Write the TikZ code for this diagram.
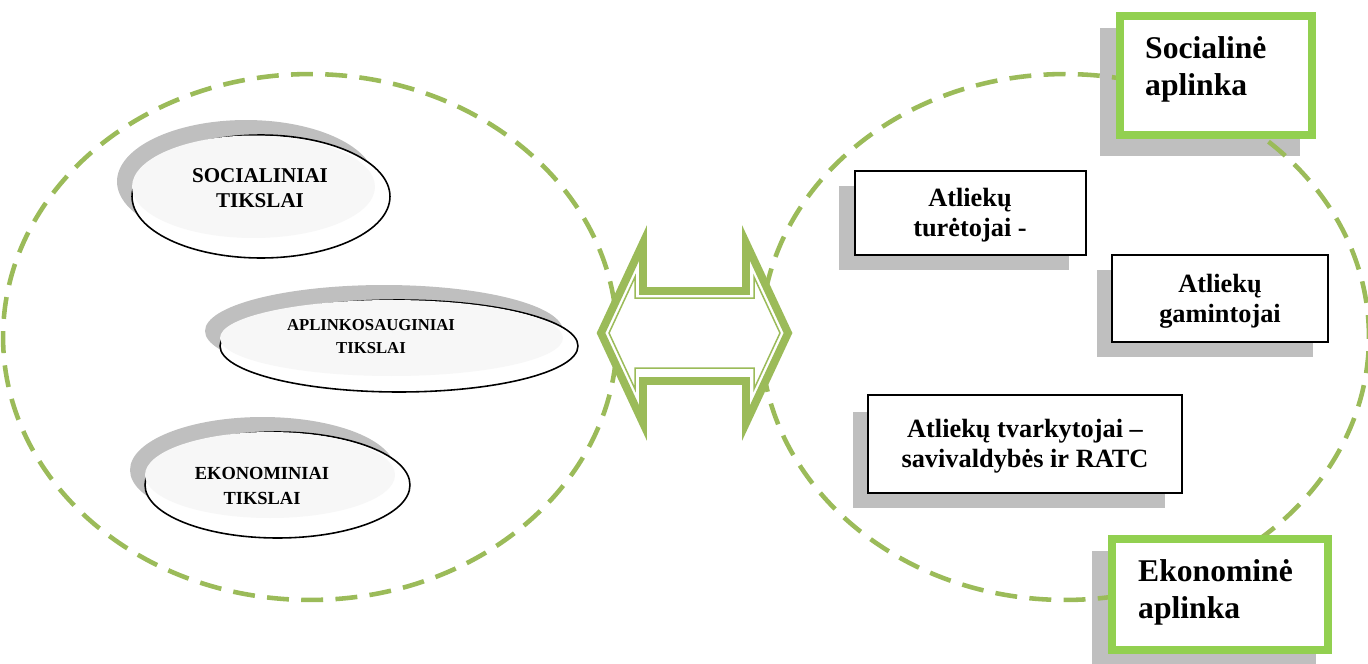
\documentclass[tikz,border=0pt]{standalone}
\usepackage{fontspec}
\setmainfont{Liberation Serif}
\usetikzlibrary{shapes.geometric}
\definecolor{olivegr}{HTML}{9BBB59}
\definecolor{brightgr}{HTML}{92D050}
\definecolor{shgray}{HTML}{BFBFBF}
\definecolor{ovfill}{HTML}{F7F7F7}
\begin{document}
\begin{tikzpicture}[x=0.02cm,y=-0.02cm,
  dashring/.style={draw=olivegr, line width=2.6pt, dash pattern=on 12.5pt off 7pt},
  shadowfill/.style={fill=shgray, draw=none},
  ovalline/.style={ellipse, draw=black, line width=0.9pt, fill=white, inner sep=0pt, outer sep=0pt},
  ovaltext/.style={font=\bfseries\fontsize{12}{14.2}\selectfont, align=center, anchor=base},
  blackbox/.style={rectangle, draw=black, line width=1.1pt, fill=white, inner sep=0pt, outer sep=0pt},
  boxtext/.style={font=\bfseries\fontsize{15}{16.6}\selectfont, align=center, anchor=base},
  greenbox/.style={rectangle, draw=brightgr, line width=4.5pt, fill=white, inner sep=0pt, outer sep=0pt},
  greentext/.style={font=\bfseries\fontsize{18}{21}\selectfont, align=left, anchor=base west},
  arrowthick/.style={draw=olivegr, line width=4.5pt, line join=miter},
  arrowthin/.style={draw=olivegr, line width=0.85pt, line join=miter},
]
\useasboundingbox (0,0) rectangle (1368,663);
\clip (0,0) rectangle (1368,663);

% shadows of the green frames
\fill[shadowfill] (1100,28) rectangle (1300,156);
\fill[shadowfill] (1092,551) rectangle (1316,670);

% dashed rings
\draw[dashring] (310,337) ellipse [x radius=6.14cm, y radius=5.26cm];
\draw[dashring] (1065,337) ellipse [x radius=6.08cm, y radius=5.26cm];

% green frames
\node[greenbox, minimum width=3.84cm, minimum height=2.38cm] (socenv) at (1216,75.5) {};
\node[greenbox, minimum width=4.32cm, minimum height=2.22cm] (ekoenv) at (1220,594.5) {};
\node[greentext] (socenvT) at (1139,95) {Socialinė\\aplinka};
\node[greentext] (ekoenvT) at (1132,618) {Ekonominė\\aplinka};

% ovals (goals)
\fill[shadowfill] (246,181.5) ellipse [x radius=2.58cm, y radius=1.23cm];
\node[ovalline, minimum width=5.16cm, minimum height=2.46cm] (soc) at (261,196.5) {};
\fill[ovfill] (253.5,186.75) ellipse [x radius=2.43cm, y radius=1.025cm];
\node[ovaltext] (socT) at (260,207) {SOCIALINIAI\\TIKSLAI};

\fill[shadowfill] (384,331) ellipse [x radius=3.58cm, y radius=0.92cm];
\node[ovalline, minimum width=7.16cm, minimum height=1.84cm] (apl) at (399,346) {};
\fill[ovfill] (391.5,338) ellipse [x radius=3.43cm, y radius=0.76cm];
\node[ovaltext, font=\bfseries\fontsize{9.5}{13}\selectfont] (aplT) at (371,353) {APLINKOSAUGINIAI\\TIKSLAI};

\fill[shadowfill] (262.5,470) ellipse [x radius=2.65cm, y radius=1.06cm];
\node[ovalline, minimum width=5.3cm, minimum height=2.12cm] (eko) at (277.5,485) {};
\fill[ovfill] (270,475) ellipse [x radius=2.5cm, y radius=0.86cm];
\node[ovaltext, font=\bfseries\fontsize{10.5}{14.2}\selectfont] (ekoT) at (262,504) {EKONOMINIAI\\TIKSLAI};

% actor boxes
\fill[shadowfill] (839,186) rectangle (1069,270);
\node[blackbox, minimum width=4.62cm, minimum height=1.68cm] (hold) at (970.5,213) {};
\node[boxtext] (holdT) at (970,236) {Atliekų\\turėtojai -};

\fill[shadowfill] (1097,270) rectangle (1313,357);
\node[blackbox, minimum width=4.32cm, minimum height=1.74cm] (prod) at (1220,298.5) {};
\node[boxtext] (prodT) at (1220,322) {Atliekų\\gamintojai};

\fill[shadowfill] (853,412) rectangle (1165,508);
\node[blackbox, minimum width=6.28cm, minimum height=1.96cm] (mgr) at (1025,444) {};
\node[boxtext] (mgrT) at (1025,467) {Atliekų tvarkytojai –\\savivaldybės ir RATC};

% double arrow
\path[fill=white] (601,333) -- (643,243) -- (643,291) -- (746,291) -- (746,243) -- (788,333)
  -- (746,423) -- (746,381) -- (643,381) -- (643,423) -- cycle;
\draw[arrowthick] (601,333) -- (643,243) -- (643,291) -- (746,291) -- (746,243) -- (788,333)
  -- (746,423) -- (746,381) -- (643,381) -- (643,423) -- cycle;
\draw[arrowthin] (609,333) -- (635,277) -- (635,298) -- (754,298) -- (754,277) -- (780,333)
  -- (754,389) -- (754,368) -- (635,368) -- (635,389) -- cycle;
\end{tikzpicture}
\end{document}
